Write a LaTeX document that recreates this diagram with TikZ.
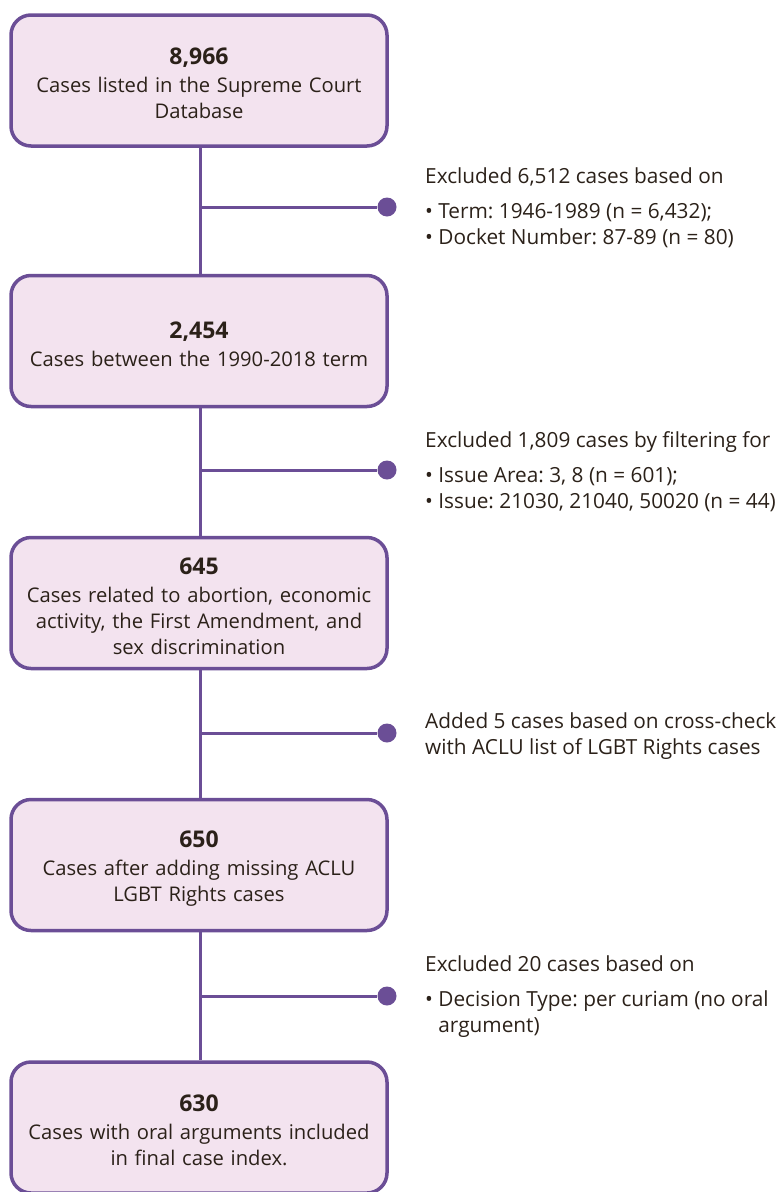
\documentclass[tikz,border=0pt]{standalone}
\usepackage{fontspec}
\setmainfont{Open Sans}
\definecolor{pur}{HTML}{6B4E96}
\definecolor{pfill}{HTML}{F3E3EF}
\definecolor{ink}{HTML}{2B2119}
\newcommand{\ttl}[1]{{\fontsize{23}{26}\selectfont\bfseries\rule{0pt}{23pt}#1}\\[2pt]}
\newcommand{\bul}{\textbullet\ }
\begin{document}
\frenchspacing
\hyphenpenalty=10000 \exhyphenpenalty=10000
\begin{tikzpicture}[x=1pt,y=-1pt,
  box/.style={draw=pur, line width=3.5pt, fill=pfill, rounded corners=20pt,
    minimum width=376pt, minimum height=131pt, text width=370pt, align=center,
    inner sep=0pt, text=ink, font=\fontsize{20.2}{26}\selectfont},
  link/.style={draw=pur, line width=3pt},
  dot/.style={circle, fill=pur, minimum size=19pt, inner sep=0pt},
  note/.style={anchor=north west, align=left, text=ink, inner sep=0pt,
    font=\fontsize{20.8}{26}\selectfont}]
\useasboundingbox (0,0) rectangle (777,1192);
\node[box] (b1) at (199,80.5) {\ttl{8,966}Cases listed in the Supreme Court\\Database};
\node[box] (b2) at (199,341) {\ttl{2,454}Cases between the 1990-2018 term};
\node[box] (b3) at (199,603) {\ttl{645}Cases related to abortion, economic\\activity, the First Amendment, and\\sex discrimination};
\node[box] (b4) at (199,865) {\ttl{650}Cases after adding missing ACLU\\LGBT Rights cases};
\node[box] (b5) at (199,1127.5) {\ttl{630}Cases with oral arguments included\\in final case index.};
\coordinate (j1) at (200,207);
\coordinate (j2) at (200,470);
\coordinate (j3) at (200,733);
\coordinate (j4) at (200,996);
\node[dot] (d1) at (387,207) {};
\node[dot] (d2) at (387,470) {};
\node[dot] (d3) at (387,733) {};
\node[dot] (d4) at (387,996) {};
\draw[link] (b1.south -| j1) -- (b2.north -| j1);
\draw[link] (b2.south -| j2) -- (b3.north -| j2);
\draw[link] (b3.south -| j3) -- (b4.north -| j3);
\draw[link] (b4.south -| j4) -- (b5.north -| j4);
\draw[link] (j1) -- (d1);
\draw[link] (j2) -- (d2);
\draw[link] (j3) -- (d3);
\draw[link] (j4) -- (d4);
\node[note] (t1) at (425,167) {Excluded 6,512 cases based on\\[9pt]\bul Term: 1946-1989 (n = 6,432);\\\bul Docket Number: 87-89 (n = 80)};
\node[note] (t2) at (425,431) {Excluded 1,809 cases by filtering for\\[9pt]\bul Issue Area: 3, 8 (n = 601);\\\bul Issue: 21030, 21040, 50020 (n = 44)};
\node[note] (t3) at (425,712) {Added 5 cases based on cross-check\\with ACLU list of LGBT Rights cases};
\node[note] (t4) at (425,955) {Excluded 20 cases based on\\[9pt]\bul Decision Type: per curiam (no oral\\\phantom{\bul}argument)};
\end{tikzpicture}
\end{document}
